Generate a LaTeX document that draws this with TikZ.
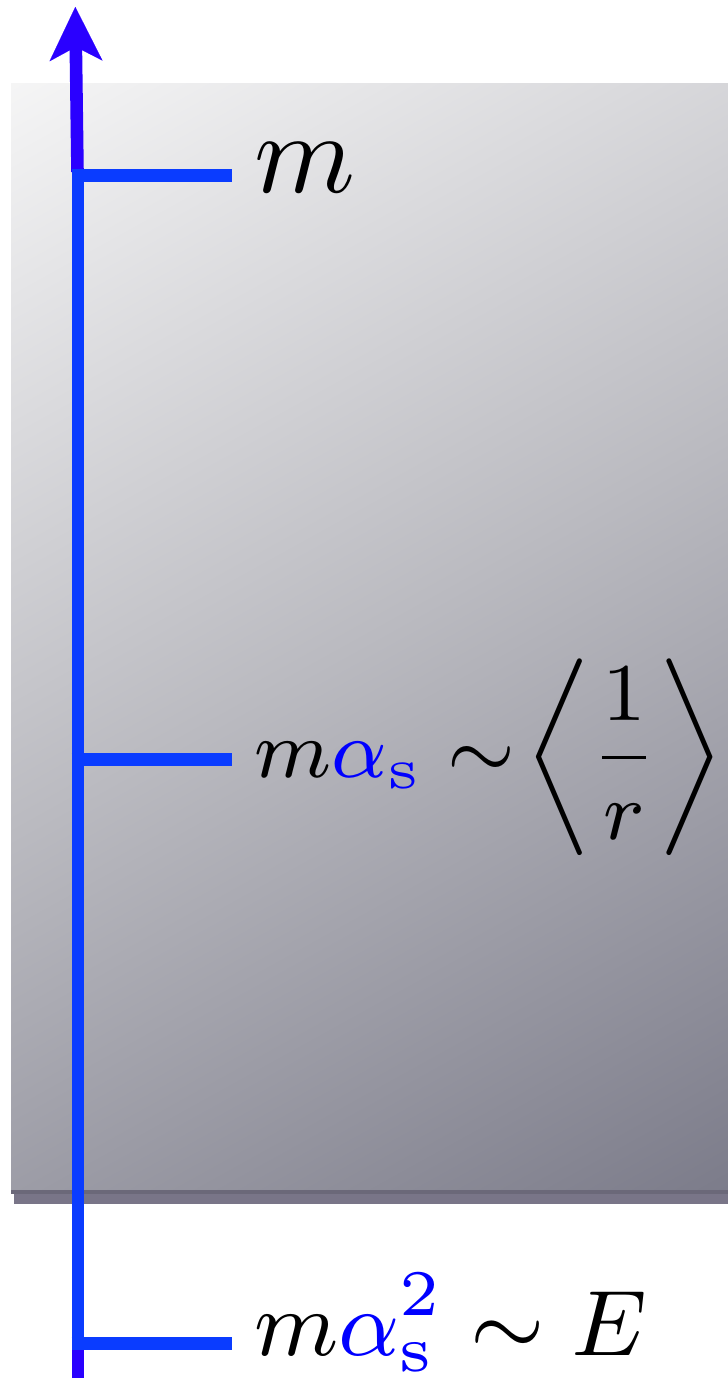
\RequirePackage{fix-cm}
\documentclass[tikz,border=0pt]{standalone}
\usepackage{amsmath, amssymb}
\usepackage{tikz}
\usetikzlibrary{arrows.meta}
\definecolor{axblue}{RGB}{10,60,255}
\definecolor{axviolet}{RGB}{42,0,255}
\definecolor{pdark}{RGB}{95,95,113}
\definecolor{pmid}{RGB}{186,186,192}
\definecolor{plight}{RGB}{250,250,250}
\definecolor{shadowgray}{RGB}{121,117,136}
\definecolor{edgegray}{RGB}{107,104,121}
\pgfdeclareverticalshading{panel}{100bp}{color(0bp)=(pdark); color(50bp)=(pmid);
  color(87bp)=(plight); color(100bp)=(plight)}

\begin{document}
\begin{tikzpicture}[x=0.1pt, y=-0.1pt,
    bx/.style={shading=panel, shading angle=29},
    ax/.style={draw=axblue, line width=1.26pt},
    tk/.style={draw=axblue, line width=1.3pt},
    up/.style={draw=axviolet, line width=1.26pt,
               -{Stealth[length=5.4pt, width=5.3pt, inset=1.4pt, line width=0.01pt]}},
    lbl/.style={anchor=base west, inner sep=0pt, text=black}
  ]
  \useasboundingbox (0,0) rectangle (728,1380);
  % shaded panel with its shadow
  \fill[shadowgray] (14,1190) rectangle (728,1204);
  \shade[bx] (11,84) rectangle (728,1191);
  \fill[edgegray] (11,1190) rectangle (728,1194);

  % axis points
  \coordinate (base) at (78,1378);
  \coordinate (top)  at (77.5,172);
  \coordinate (tip)  at (75.3,7);
  \coordinate (lo)   at (78,1350);
  \coordinate (hi)   at (78,169);
  \coordinate (t1a) at (71.7,175.7);  \coordinate (t1b) at (231.7,175.7);
  \coordinate (t2a) at (71.7,760);    \coordinate (t2b) at (231.7,760);
  \coordinate (t3a) at (71.7,1343);   \coordinate (t3b) at (231.7,1343);

  \draw[draw=axviolet, line width=1.26pt] (base) -- (lo);
  \draw[up] (top) -- (tip);
  \draw[ax] (lo) -- (hi);
  \draw[tk] (t1a) -- (t1b);
  \draw[tk] (t2a) -- (t2b);
  \draw[tk] (t3a) -- (t3b);

  % scale labels
  \node[lbl, font=\fontsize{11.5}{14}\selectfont] (lm) at (252,192.7) {$m$};
  \node[lbl, font=\fontsize{8.2}{10}\selectfont] (lma) at (252,778)
    {$m\textcolor{blue}{\alpha_{\mathrm{s}}} \sim\! \left\langle \dfrac{1}{r} \right\rangle$};
  \node[lbl, font=\fontsize{9.3}{11}\selectfont] (lmaa) at (252,1355)
    {$m\textcolor{blue}{\alpha_{\mathrm{s}}^{2}} \sim E$};
\end{tikzpicture}
\end{document}
